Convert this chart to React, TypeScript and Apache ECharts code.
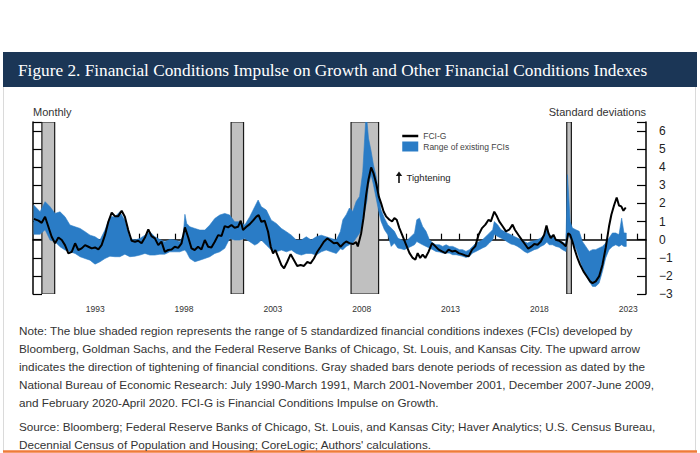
import React, { useEffect, useRef } from 'react';
import * as echarts from 'echarts';

// ---- Data ----
const lineYears = [
  1990.05, 1990.31, 1990.49, 1990.68, 1990.87, 1991.05, 1991.24, 1991.43, 1991.62, 1991.8,
  1991.99, 1992.18, 1992.37, 1992.55, 1992.74, 1992.93, 1993.12, 1993.3, 1993.49, 1993.68,
  1993.86, 1994.05, 1994.24, 1994.43, 1994.61, 1994.8, 1994.99, 1995.17, 1995.36, 1995.55,
  1995.74, 1995.92, 1996.11, 1996.3, 1996.49, 1996.67, 1996.86, 1997.05, 1997.23, 1997.42,
  1997.61, 1997.8, 1997.98, 1998.17, 1998.36, 1998.55, 1998.73, 1998.92, 1999.1, 1999.29,
  1999.48, 1999.67, 1999.86, 2000.04, 2000.23, 2000.42, 2000.61, 2000.79, 2000.98, 2001.17,
  2001.35, 2001.54, 2001.69, 2001.82, 2002.01, 2002.2, 2002.38, 2002.57, 2002.7, 2002.85,
  2003.04, 2003.23, 2003.38, 2003.51, 2003.64, 2003.79, 2003.98, 2004.13, 2004.31, 2004.5,
  2004.69, 2004.87, 2005.06, 2005.25, 2005.44, 2005.62, 2005.81, 2006.0, 2006.19, 2006.37,
  2006.56, 2006.75, 2006.93, 2007.12, 2007.31, 2007.5, 2007.63, 2007.81, 2008.0, 2008.19,
  2008.28, 2008.47, 2008.6, 2008.75, 2008.88, 2009.03, 2009.16, 2009.31, 2009.46, 2009.59,
  2009.73, 2009.87, 2010.06, 2010.21, 2010.34, 2010.47, 2010.62, 2010.81, 2011.0, 2011.19,
  2011.37, 2011.52, 2011.65, 2011.79, 2011.93, 2012.08, 2012.27, 2012.46, 2012.65, 2012.83,
  2013.02, 2013.21, 2013.39, 2013.58, 2013.77, 2013.96, 2014.14, 2014.33, 2014.52, 2014.71,
  2014.89, 2015.08, 2015.27, 2015.46, 2015.64, 2015.77, 2015.96, 2016.11, 2016.24, 2016.43,
  2016.62, 2016.8, 2016.99, 2017.12, 2017.31, 2017.5, 2017.68, 2017.87, 2018.06, 2018.21,
  2018.4, 2018.58, 2018.77, 2018.9, 2019.01, 2019.14, 2019.29, 2019.42, 2019.61, 2019.8,
  2019.99, 2020.12, 2020.23, 2020.36, 2020.49, 2020.64, 2020.79, 2020.98, 2021.17, 2021.35,
  2021.49, 2021.67, 2021.86, 2022.05, 2022.23, 2022.42, 2022.55, 2022.7, 2022.85, 2022.98,
  2023.11, 2023.23, 2023.36,
];
const lineValues = [
  1.15, 1.05, 0.93, 1.27, 0.7, 0.16, -0.2, 0.12, -0.02, -0.3,
  -0.76, -0.67, -0.2, -0.57, -0.48, -0.3, -0.39, -0.48, -0.43, -0.54,
  -0.3, 0.25, 0.99, 1.49, 1.3, 1.3, 1.6, 1.27, 0.53, -0.06,
  -0.11, -0.06, -0.2, 0.12, 0.57, 0.2, 0.07, -0.3, -0.11, -0.67,
  -0.57, -0.54, -0.39, -0.45, -0.2, 0.68, 0.15, -0.48, -0.57, -0.39,
  -0.54, -0.02, -0.39, -0.43, -0.11, 0.25, 0.2, 0.75, 0.68, 0.81,
  0.66, 0.71, 1.05, 0.53, 0.71, 0.86, 1.05, 1.27, 1.36, 0.99,
  1.05, 0.44, -0.39, -0.76, -0.57, -0.94, -1.4, -1.58, -1.22, -0.8,
  -1.13, -1.45, -1.4, -1.45, -1.22, -1.31, -1.04, -0.67, -0.39, -0.11,
  0.07, -0.06, -0.2, -0.17, -0.39, -0.2, -0.1, -0.19, -0.24, -0.13,
  -0.37, 0.36, 1.19, 2.48, 3.31, 3.99, 3.68, 3.13, 2.39, 2.02,
  1.56, 1.29, 1.1, 1.01, 1.19, 1.1, 0.64, 0.18, -0.28, -0.74,
  -1.01, -1.1, -0.74, -1.01, -0.83, -1.01, -0.65, -0.19, -0.37, -0.55,
  -0.65, -0.74, -0.55, -0.65, -0.61, -0.74, -0.8, -0.87, -0.92, -0.55,
  -0.37, 0.27, 0.64, 0.83, 1.1, 1.01, 1.55, 1.29, 1.01, 0.74,
  0.46, 0.55, 0.83, 0.55, 0.27, 0, -0.24, -0.5, -0.37, -0.24,
  -0.28, -0.1, 0.27, 0.78, 0.36, 0.09, 0.27, 0, -0.06, -0.19,
  -0.37, 0.36, 0.27, -0.1, -0.55, -1.01, -1.38, -1.75, -2.03, -2.3,
  -2.4, -2.3, -2.03, -1.38, -0.46, 0.74, 1.38, 1.89, 2.33, 1.89,
  1.84, 1.6, 1.78,
];

const bandYears = [
  1990.05, 1990.4, 1990.68, 1990.96, 1991.24, 1991.52, 1991.8, 1992.08, 1992.37, 1992.65,
  1992.93, 1993.21, 1993.49, 1993.77, 1994.05, 1994.33, 1994.61, 1994.89, 1995.17, 1995.45,
  1995.74, 1996.02, 1996.3, 1996.58, 1996.86, 1997.14, 1997.42, 1997.7, 1997.98, 1998.26,
  1998.45, 1998.55, 1998.65, 1998.83, 1999.11, 1999.39, 1999.67, 1999.95, 2000.23, 2000.51,
  2000.79, 2001.07, 2001.35, 2001.63, 2001.92, 2002.2, 2002.48, 2002.67, 2002.85, 2003.13,
  2003.41, 2003.69, 2003.98, 2004.26, 2004.54, 2004.82, 2005.1, 2005.38, 2005.66, 2005.94,
  2006.22, 2006.5, 2006.78, 2007.07, 2007.3, 2007.44, 2007.63, 2007.81, 2008.0, 2008.19,
  2008.38, 2008.56, 2008.72, 2008.8, 2008.88, 2009.03, 2009.16, 2009.31, 2009.46, 2009.59,
  2009.78, 2009.97, 2010.16, 2010.34, 2010.53, 2010.72, 2010.9, 2011.09, 2011.28, 2011.47,
  2011.6, 2011.75, 2011.93, 2012.12, 2012.31, 2012.5, 2012.68, 2012.87, 2013.06, 2013.25,
  2013.43, 2013.62, 2013.81, 2014.0, 2014.18, 2014.37, 2014.56, 2014.74, 2014.93, 2015.12,
  2015.3, 2015.49, 2015.68, 2015.87, 2015.96, 2016.15, 2016.34, 2016.52, 2016.71, 2016.9,
  2017.08, 2017.27, 2017.46, 2017.65, 2017.83, 2018.02, 2018.21, 2018.4, 2018.58, 2018.77,
  2018.92, 2019.05, 2019.24, 2019.43, 2019.61, 2019.8, 2019.99, 2020.08, 2020.23, 2020.36,
  2020.55, 2020.74, 2020.92, 2021.11, 2021.3, 2021.49, 2021.67, 2021.86, 2022.05, 2022.23,
  2022.42, 2022.61, 2022.8, 2022.98, 2023.13, 2023.26, 2023.39,
];
const bandHigh = [
  1.9, 1.54, 2.1, 1.82, 1.45, 1.54, 1.27, 0.81, 0.71, 0.62,
  0.44, 0.25, 0.16, -0.02, 0.53, 1.27, 1.27, 1.54, 1.08, 0.07,
  -0.02, 0.07, 0.25, 0.44, 0.16, 0.01, -0.11, 0.01, -0.02, -0.11,
  0.2, 1.4, 0.9, 0.71, 0.62, 0.53, 0.53, 0.81, 1.17, 1.36,
  1.45, 1.36, 0.99, 0.99, 0.81, 1.27, 1.82, 2.19, 1.82, 1.64,
  1.08, 0.9, 0.62, 0.44, 0.25, -0.02, -0.02, 0.16, -0.02, 0.16,
  0.25, 0.16, 0.07, -0.02, 0.45, 1.1, 1.38, 1.75, 1.56, 2.11,
  2.39, 3.77, 6.5, 6.5, 5.61, 4.88, 4.14, 3.5, 2.48, 1.66,
  1.19, 0.83, 0.64, 0.46, 0.09, 0, -0.1, 0, 0.18, 0.36,
  1.1, 1.19, 0.73, 0.46, 0, -0.19, -0.28, -0.28, -0.37, -0.28,
  -0.37, -0.37, -0.46, -0.55, -0.55, -0.65, -0.55, -0.37, -0.19, -0.1,
  0, 0.18, 0.36, 0.55, 1.0, 0.82, 0.55, 0.46, 0.36, 0.27,
  0.18, 0.09, 0, -0.1, -0.19, -0.1, -0.06, 0, 0.09, 0.27,
  0.74, 0.27, 0.18, 0, -0.1, -0.13, -0.24, 3.59, 1.0, 0.64,
  0.55, 0.46, -0.1, -0.37, -0.65, -0.55, -0.55, -0.46, -0.37, -0.19,
  0.09, 0.37, 0.37, 0.27, 1.19, 0.37, 0.37,
];
const bandLow = [
  0.3, 0.3, 0.55, -0.02, -0.11, -0.39, -0.57, -0.67, -0.76, -0.94,
  -1.04, -1.13, -1.35, -1.22, -1.04, -0.91, -0.94, -0.94, -0.8, -0.94,
  -0.91, -0.85, -0.76, -0.85, -0.85, -0.8, -0.8, -0.67, -0.67, -0.67,
  -0.6, -0.57, -0.7, -1.04, -1.22, -1.13, -1.04, -0.94, -0.76, -0.67,
  -0.48, 0.07, -0.02, -0.02, 0.07, -0.11, -0.3, -0.2, -0.02, -0.3,
  -0.57, -0.67, -0.57, -0.67, -0.57, -0.76, -0.85, -0.76, -0.76, -0.85,
  -0.67, -0.57, -0.67, -0.76, -0.5, -0.55, -0.37, -0.28, -0.19, 0.09,
  0.36, 1.01, 1.8, 2.2, 3.04, 3.59, 3.04, 2.3, 1.56, 1.01,
  0.55, 0.27, -0.37, -0.19, -0.46, -0.5, -0.55, -0.46, -0.37, -0.28,
  -0.1, -0.19, -0.28, -0.37, -0.46, -0.55, -0.65, -0.68, -0.74, -0.74,
  -0.74, -0.83, -0.83, -0.87, -0.92, -0.98, -0.92, -0.74, -0.65, -0.55,
  -0.46, -0.37, -0.19, 0, 0.3, 0.18, 0.09, 0, -0.13, -0.24,
  -0.28, -0.37, -0.5, -0.65, -0.74, -0.65, -0.55, -0.5, -0.37, -0.28,
  -0.13, -0.28, -0.28, -0.37, -0.42, -0.55, -0.65, 0.27, 0.09, -0.1,
  -0.46, -1.01, -1.57, -1.94, -2.3, -2.58, -2.58, -2.4, -1.75, -1.01,
  -0.55, -0.37, -0.28, -0.37, -0.28, -0.37, -0.37,
];

// NBER recessions (decimal years)
const recessionStarts = [1990.5, 2001.15, 2007.9, 2020.04];
const recessionEnds = [1991.22, 2001.85, 2009.45, 2020.3];

const xLabelYears = [1993, 1998, 2003, 2008, 2013, 2018, 2023];
const yTickValues = [-3, -2, -1, 0, 1, 2, 3, 4, 5, 6, 6.5];
const yLabelValues = [-3, -2, -1, 0, 1, 2, 3, 4, 5, 6];
const X_MIN = 1990;
const X_MAX = 2024.5;
const Y_MIN = -3;
const Y_MAX = 6.5;

const titleText =
  'Figure 2. Financial Conditions Impulse on Growth and Other Financial Conditions Indexes';
const noteLines = [
  'Note: The blue shaded region represents the range of 5 standardized financial conditions indexes (FCIs) developed by',
  'Bloomberg, Goldman Sachs, and the Federal Reserve Banks of Chicago, St. Louis, and Kansas City. The upward arrow',
  'indicates the direction of tightening of financial conditions. Gray shaded bars denote periods of recession as dated by the',
  'National Bureau of Economic Research: July 1990-March 1991, March 2001-November 2001, December 2007-June 2009,',
  'and February 2020-April 2020. FCI-G is Financial Conditions Impulse on Growth.',
];
const sourceLines = [
  "Source: Bloomberg; Federal Reserve Banks of Chicago, St. Louis, and Kansas City; Haver Analytics; U.S. Census Bureau,",
  "Decennial Census of Population and Housing; CoreLogic; Authors' calculations.",
];

const SANS = '"Liberation Sans", Arial, sans-serif';
const SERIF = '"Liberation Serif", "Times New Roman", serif';
const BLUE = '#2a7cc6';

function fitSize(text: string, family: string, target: number): number {
  const ctx = document.createElement('canvas').getContext('2d');
  if (!ctx) return 12;
  ctx.font = `100px ${family}`;
  const w = ctx.measureText(text).width;
  return w > 0 ? (100 * target) / w : 12;
}

export default function App() {
  const ref = useRef<HTMLDivElement>(null);

  useEffect(() => {
    if (!ref.current) return;
    const chart = echarts.init(ref.current, null, { renderer: 'svg' });

    const tickYears: number[] = [];
    for (let y = X_MIN + 1; y <= Math.floor(X_MAX); y++) tickYears.push(y);

    const titleSize = fitSize(titleText, SERIF, 630);
    const noteSize = fitSize(noteLines[2], SANS, 627);

    const noteTexts: any[] = [];
    noteLines.forEach((t, i) => {
      noteTexts.push({
        type: 'text', x: 19, y: 330 + i * 18, z: 20,
        style: { text: t, fill: '#333', font: `${noteSize}px ${SANS}`, verticalAlign: 'middle' },
      });
    });
    sourceLines.forEach((t, i) => {
      noteTexts.push({
        type: 'text', x: 19, y: 426 + i * 18, z: 20,
        style: { text: t, fill: '#333', font: `${noteSize}px ${SANS}`, verticalAlign: 'middle' },
      });
    });

    const option: any = {
      animation: false,
      grid: { left: 33, right: 54, top: 122, bottom: 159 },
      legend: {
        show: true,
        left: 396,
        top: 126,
        orient: 'vertical',
        itemWidth: 16,
        itemHeight: 10,
        itemGap: 0.5,
        selectedMode: false,
        textStyle: { fontSize: 8.5, color: '#444', fontFamily: SANS, lineHeight: 10 },
        data: [
          { name: 'FCI-G', itemStyle: { opacity: 0 }, lineStyle: { width: 2.5, color: '#000' } },
          { name: 'Range of existing FCIs', icon: 'rect' },
        ],
      },
      xAxis: {
        type: 'value',
        min: X_MIN,
        max: X_MAX,
        axisLine: { show: true, lineStyle: { color: '#000', width: 1.5 } },
        axisTick: {
          show: true, inside: true, length: 6, customValues: tickYears,
          lineStyle: { color: '#000', width: 1.2 },
        },
        axisLabel: {
          customValues: xLabelYears.map((y) => y + 0.5),
          formatter: (v: number) => String(Math.floor(v)),
          fontSize: 8.5, color: '#333', fontFamily: SANS, margin: 10,
        },
        splitLine: { show: false },
      },
      yAxis: [
        {
          type: 'value', position: 'left', min: Y_MIN, max: Y_MAX,
          axisLine: { show: true, lineStyle: { color: '#000', width: 1.5 } },
          axisTick: {
            show: true, inside: true, length: 9, customValues: yTickValues,
            lineStyle: { color: '#000', width: 1.2 },
          },
          axisLabel: { show: false },
          splitLine: { show: false },
        },
        {
          type: 'value', position: 'right', min: Y_MIN, max: Y_MAX,
          axisLine: { show: true, lineStyle: { color: '#000', width: 1.5 } },
          axisTick: {
            show: true, inside: true, length: 9, customValues: yTickValues,
            lineStyle: { color: '#000', width: 1.2 },
          },
          axisLabel: {
            show: true, customValues: yLabelValues, margin: 13,
            formatter: (v: number) => (v < 0 ? '\u2212' + Math.abs(v) : String(v)),
            fontSize: 12, color: '#222', fontFamily: SANS, align: 'left',
          },
          splitLine: { show: false },
        },
      ],
      series: [
        {
          type: 'custom',
          name: 'recessions',
          z: 1,
          silent: true,
          clip: true,
          data: recessionStarts.map((s, i) => [s, recessionEnds[i]]),
          encode: { x: [0, 1] },
          renderItem: (params: any, api: any) => {
            const p0 = api.coord([api.value(0), Y_MAX]);
            const p1 = api.coord([api.value(1), Y_MIN]);
            return {
              type: 'rect',
              shape: { x: p0[0], y: p0[1], width: p1[0] - p0[0], height: p1[1] - p0[1] },
              style: { fill: '#c0c0c0', stroke: '#1a1a1a', lineWidth: 1.2 },
            };
          },
        },
        {
          type: 'custom',
          name: 'Range of existing FCIs',
          z: 2,
          clip: true,
          itemStyle: { color: BLUE },
          data: bandYears.map((y, i) => [y, bandLow[i], bandHigh[i]]),
          encode: { x: 0, y: [1, 2] },
          renderItem: (params: any, api: any) => {
            if (params.dataIndex !== 0) return null;
            const pts: number[][] = [];
            for (let i = 0; i < bandYears.length; i++) pts.push(api.coord([bandYears[i], bandHigh[i]]));
            for (let i = bandYears.length - 1; i >= 0; i--) pts.push(api.coord([bandYears[i], bandLow[i]]));
            return {
              type: 'polygon',
              shape: { points: pts },
              style: { fill: BLUE, stroke: BLUE, lineWidth: 0.6 },
            };
          },
        },
        {
          type: 'line',
          name: 'FCI-G',
          z: 3,
          symbol: 'none',
          data: lineYears.map((y, i) => [y, lineValues[i]]),
          lineStyle: { color: '#000', width: 2 },
          itemStyle: { color: '#000' },
        },
      ],
      graphic: [
        { type: 'rect', z: 10, shape: { x: 3, y: 52, width: 694, height: 35 }, style: { fill: '#1b3656' } },
        {
          type: 'text', z: 11, x: 18, y: 70,
          style: { text: titleText, fill: '#ffffff', font: `${titleSize}px ${SERIF}`, verticalAlign: 'middle' },
        },
        { type: 'line', z: 10, shape: { x1: 3.5, y1: 87, x2: 3.5, y2: 451 }, style: { stroke: '#dadada', lineWidth: 1 } },
        { type: 'line', z: 10, shape: { x1: 695.5, y1: 87, x2: 695.5, y2: 451 }, style: { stroke: '#dadada', lineWidth: 1 } },
        { type: 'line', z: 10, shape: { x1: 3, y1: 451.5, x2: 697, y2: 451.5 }, style: { stroke: '#ef7b3a', lineWidth: 2.5 } },
        {
          type: 'text', z: 11, x: 33, y: 112,
          style: { text: 'Monthly', fill: '#333', font: `11px ${SANS}`, verticalAlign: 'middle' },
        },
        {
          type: 'text', z: 11, x: 646, y: 112,
          style: { text: 'Standard deviations', fill: '#333', font: `11px ${SANS}`, verticalAlign: 'middle', align: 'right' },
        },
        { type: 'line', z: 11, shape: { x1: 399, y1: 183, x2: 399, y2: 175 }, style: { stroke: '#111', lineWidth: 1.6 } },
        { type: 'polygon', z: 11, shape: { points: [[395.8, 176], [402.2, 176], [399, 171.5]] }, style: { fill: '#111' } },
        {
          type: 'text', z: 11, x: 406.5, y: 177,
          style: { text: 'Tightening', fill: '#222', font: `9.5px ${SANS}`, verticalAlign: 'middle' },
        },
        ...noteTexts,
      ],
    };

    chart.setOption(option);
    return () => chart.dispose();
  }, []);

  return (
    <div
      ref={ref}
      style={{ position: 'absolute', left: 0, top: 0, width: 700, height: 453, background: '#fff' }}
    />
  );
}
